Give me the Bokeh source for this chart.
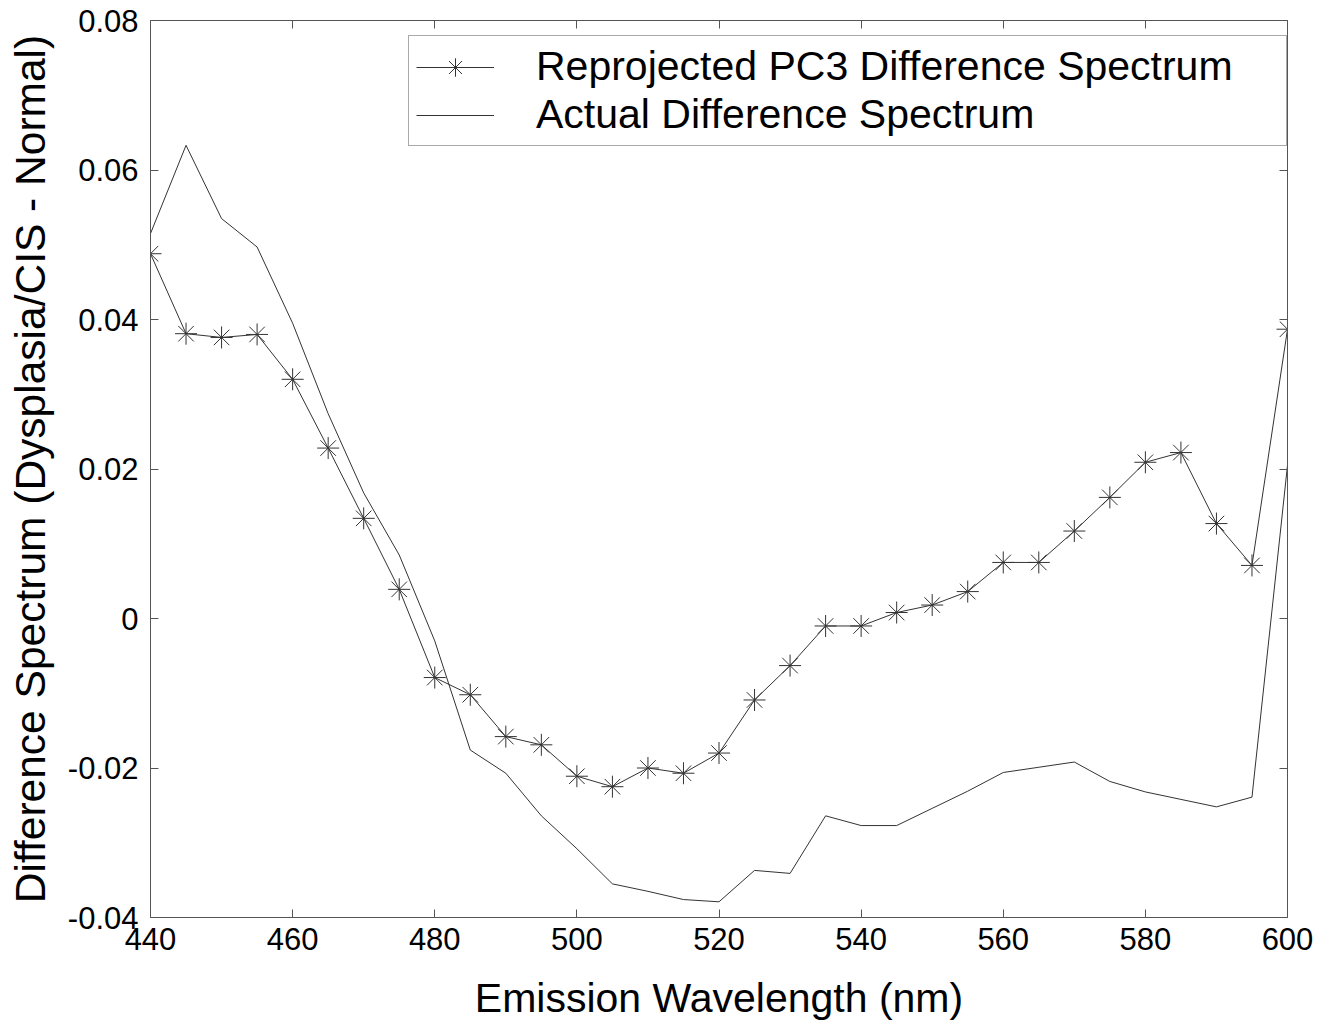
from bokeh.plotting import figure
from bokeh.models import Range1d, FixedTicker, LinearAxis, Legend, LegendItem
from bokeh.embed import file_html
from bokeh.resources import INLINE

# ---- data ----
wavelength = [440, 445, 450, 455, 460, 465, 470, 475, 480, 485, 490, 495, 500, 505, 510,
              515, 520, 525, 530, 535, 540, 545, 550, 555, 560, 565, 570, 575, 580, 585,
              590, 595, 600]
reprojected_pc3 = [0.0488, 0.0381, 0.0376, 0.0380, 0.0320, 0.0228, 0.0134, 0.0039,
                   -0.0079, -0.0102, -0.0158, -0.0169, -0.0211, -0.0225, -0.0200, -0.0207,
                   -0.0180, -0.0109, -0.0063, -0.0010, -0.0010, 0.0008, 0.0018, 0.0036,
                   0.0075, 0.0075, 0.0117, 0.0162, 0.0209, 0.0222, 0.0127, 0.0071, 0.0387]
actual_diff = [0.0515, 0.0633, 0.0535, 0.0497, 0.0395, 0.0274, 0.0168, 0.0085,
               -0.0030, -0.0176, -0.0207, -0.0264, -0.0308, -0.0355, -0.0365, -0.0376,
               -0.0379, -0.0337, -0.0341, -0.0264, -0.0277, -0.0277, -0.0254, -0.0231,
               -0.0206, -0.0199, -0.0192, -0.0218, -0.0232, -0.0242, -0.0252, -0.0239, 0.0205]
x_ticks = [440, 460, 480, 500, 520, 540, 560, 580, 600]
y_ticks = [-0.04, -0.02, 0.0, 0.02, 0.04, 0.06, 0.08]
y_tick_labels = ["-0.04", "-0.02", "0", "0.02", "0.04", "0.06", "0.08"]
series_names = ["Reprojected PC3 Difference Spectrum", "Actual Difference Spectrum"]
x_label = "Emission Wavelength (nm)"
y_label = "Difference Spectrum (Dysplasia/CIS - Normal)"

FONT = "Liberation Sans"
LINE = "#333333"
AXIS = "#555555"

p = figure(width=1335, height=1024, output_backend="svg", toolbar_location=None,
           x_range=Range1d(440, 600), y_range=Range1d(-0.04, 0.08),
           min_border_left=150, min_border_right=48, min_border_top=20, min_border_bottom=107,
           x_axis_label=x_label, y_axis_label=y_label)
p.xgrid.visible = False
p.ygrid.visible = False
p.outline_line_color = None
p.background_fill_color = "white"
p.border_fill_color = "white"

def style_axis(ax, labels=True):
    ax.axis_line_color = AXIS
    ax.axis_line_width = 1
    ax.major_tick_line_color = AXIS
    ax.major_tick_in = 8
    ax.major_tick_out = 0
    ax.minor_tick_line_color = None
    ax.major_label_text_font = FONT
    ax.major_label_text_color = "black"
    if labels:
        ax.major_label_text_font_size = "31px"
    else:
        ax.major_label_text_font_size = "0px"
        ax.major_label_standoff = 0
    ax.axis_label_text_font = FONT
    ax.axis_label_text_font_style = "normal"
    ax.axis_label_text_color = "black"

xt = FixedTicker(ticks=x_ticks)
yt = FixedTicker(ticks=y_ticks)
overrides = {v: s for v, s in zip(y_ticks, y_tick_labels)}

p.xaxis.ticker = xt
p.yaxis.ticker = yt
for ax in p.xaxis:
    style_axis(ax)
    ax.axis_label_text_font_size = "41px"
    ax.major_label_standoff = 10
    ax.axis_label_standoff = 22
for ax in p.yaxis:
    style_axis(ax)
    ax.axis_label_text_font_size = "42.5px"
    ax.major_label_overrides = overrides
    ax.major_label_standoff = 12
    ax.axis_label_standoff = 11

top = LinearAxis(ticker=xt)
style_axis(top, labels=False)
top.major_label_overrides = {v: "" for v in x_ticks}
p.add_layout(top, "above")
right = LinearAxis(ticker=yt)
style_axis(right, labels=False)
right.major_label_overrides = {v: "" for v in y_ticks}
p.add_layout(right, "right")

r_actual = p.line(wavelength, actual_diff, line_color=LINE, line_width=1)
r_pc3_line = p.line(wavelength, reprojected_pc3, line_color=LINE, line_width=1)
r_pc3_pts = p.scatter(wavelength, reprojected_pc3, marker="asterisk", size=22,
                      line_color=LINE, line_width=1)

legend = Legend(items=[LegendItem(label=series_names[0], renderers=[r_pc3_line, r_pc3_pts]),
                       LegendItem(label=series_names[1], renderers=[r_actual])],
                location=(258, 771))
legend.label_text_font = FONT
legend.label_text_font_size = "41px"
legend.label_text_color = "black"
legend.border_line_color = AXIS
legend.border_line_width = 1
legend.background_fill_color = "white"
legend.background_fill_alpha = 1
legend.padding = 7
legend.spacing = 1
legend.glyph_width = 78
legend.glyph_height = 46
legend.label_height = 46
legend.label_standoff = 42
legend.label_width = 743
legend.margin = 0
p.add_layout(legend)

open("out.html", "w").write(file_html(p, INLINE))
